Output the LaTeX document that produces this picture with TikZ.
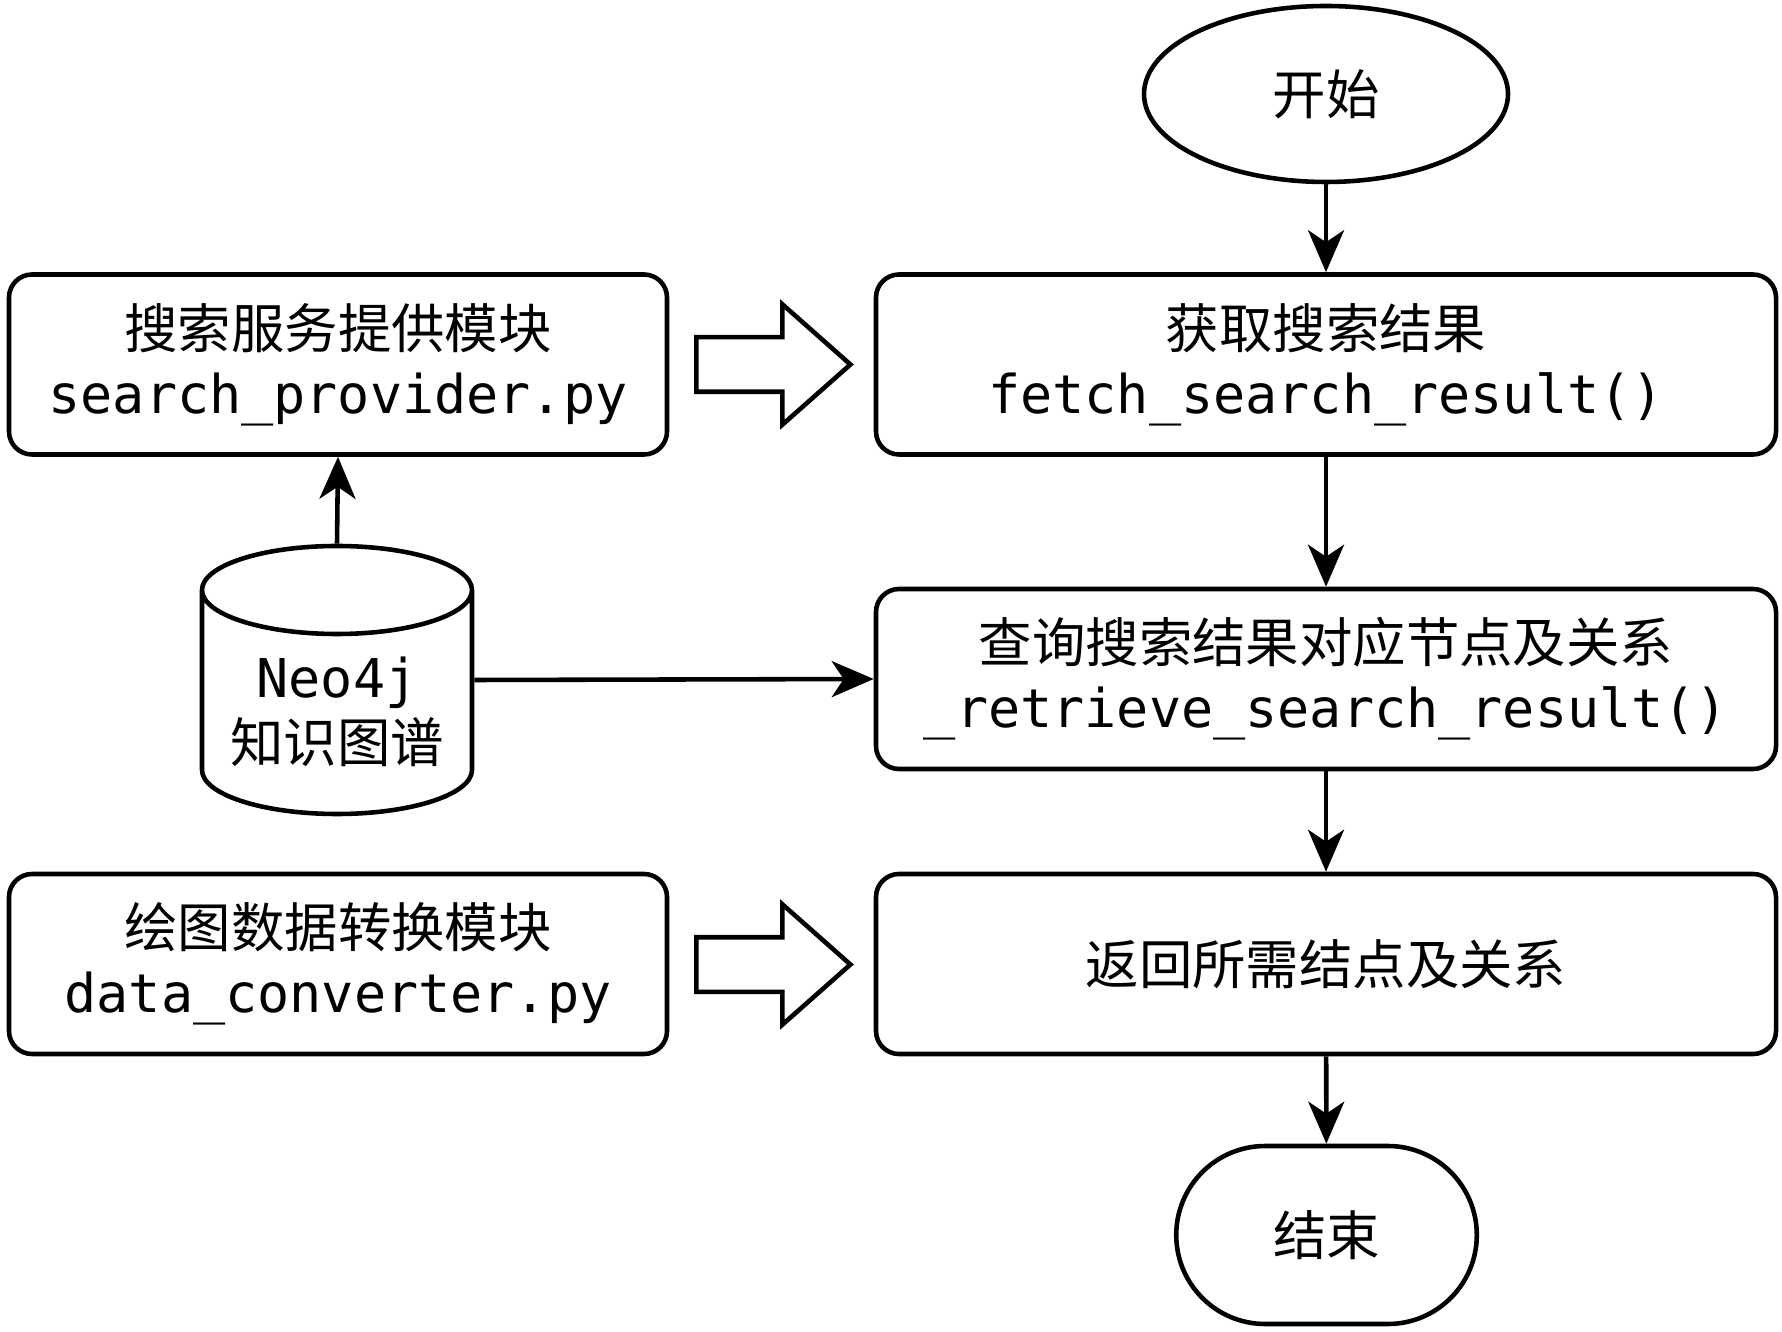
\documentclass[tikz,border=0pt]{standalone}
\usepackage{fontspec}
\setmainfont{DejaVu Sans Mono}
\newfontfamily\cjk{Noto Sans CJK SC}
\usetikzlibrary{shapes.geometric,shapes.arrows,shapes.misc,arrows.meta}

\begin{document}
\begin{tikzpicture}[line width=1.3pt,
    every node/.style={font=\fontsize{15.2pt}{18.5pt}\selectfont, align=center},
    box/.style={draw, rounded corners=0.23cm, minimum width=9cm, minimum height=1.8cm},
    lbox/.style={box, minimum width=6.58cm},
    flow/.style={-{Stealth[length=0.42cm, width=0.36cm, inset=0.12cm]}},
    blockarrow/.style={draw, single arrow, inner sep=0.25cm, minimum height=1.54cm,
        single arrow head extend=0.33cm, single arrow tip angle=83}]
    \useasboundingbox (0,0) rectangle (17.82,-13.32);
    % main column
    \node[draw, ellipse, minimum width=3.64cm, minimum height=1.76cm] (start) at (13.26,-0.94) {\cjk 开始};
    \node[box] (fetch) at (13.26,-3.645) {{\cjk 获取搜索结果}\\fetch\_search\_result()};
    \node[box] (retrieve) at (13.26,-6.79) {{\cjk 查询搜索结果对应节点及关系}\\\_retrieve\_search\_result()};
    \node[box] (ret) at (13.26,-9.64) {\cjk 返回所需结点及关系};
    \node[draw, rounded rectangle, minimum width=3.24cm, minimum height=1.78cm] (end) at (13.265,-12.35) {\cjk 结束};
    % left column
    \node[lbox] (provider) at (3.38,-3.645) {{\cjk 搜索服务提供模块}\\search\_provider.py};
    \node[lbox] (converter) at (3.38,-9.64) {{\cjk 绘图数据转换模块}\\data\_converter.py};
    % database
    \node[minimum width=2.7cm, minimum height=2.68cm, inner sep=0pt] (neo) at (3.37,-6.80) {};
    \draw (2.02,-5.90) -- (2.02,-7.70) arc[start angle=180, end angle=360, x radius=1.35cm, y radius=0.44cm]
        -- (4.72,-5.90) arc[start angle=0, end angle=180, x radius=1.35cm, y radius=0.44cm]
        arc[start angle=180, end angle=360, x radius=1.35cm, y radius=0.44cm];
    \node (neotext) at (3.37,-7.12) {Neo4j\\{\cjk 知识图谱}};
    \node[blockarrow] (arr1) at (7.58,-3.645) {};
    \node[blockarrow] (arr2) at (7.58,-9.645) {};
    \draw[flow] (start) -- (fetch);
    \draw[flow] (fetch) -- (retrieve);
    \draw[flow] (retrieve) -- (ret);
    \draw[flow] (ret) -- (end);
    \draw[flow] (neo.north) -- (provider.south);
    \draw[flow] (neo.east) -- (retrieve.west);
\end{tikzpicture}
\end{document}
